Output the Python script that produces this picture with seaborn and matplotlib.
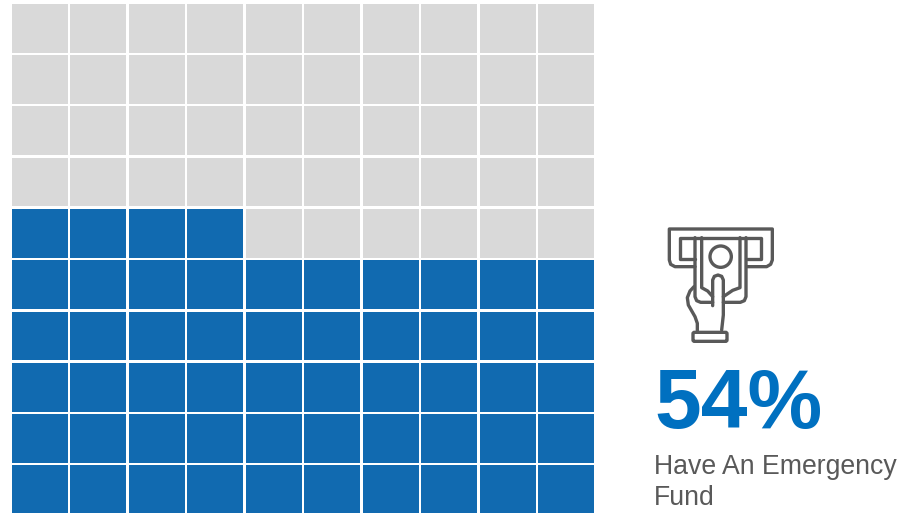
import numpy as np
import matplotlib
matplotlib.use("Agg")
import matplotlib.pyplot as plt
from matplotlib.colors import ListedColormap
from matplotlib.patches import Circle, FancyBboxPatch
import seaborn as sns

# Units filled per row, top row first (54 of 100)
filled_per_row = [0, 0, 0, 0, 4, 10, 10, 10, 10, 10]
n_columns = 10
headline = "54%"
caption = ["Have An Emergency", "Fund"]
colours = ["#D9D9D9", "#116AB0"]

W, H = 902, 513
matrix = np.array([[1 if c < n else 0 for c in range(n_columns)] for n in filled_per_row])

sns.set_theme(style="white")
plt.rcParams["font.family"] = ["Liberation Sans", "DejaVu Sans"]

fig = plt.figure(figsize=(W / 100, H / 100), dpi=100, facecolor="white")
ax = fig.add_axes([10.5 / W, 1 - 515.5 / H, 585 / W, 513 / H])
sns.heatmap(matrix, ax=ax, cmap=ListedColormap(colours), vmin=0, vmax=1, cbar=False,
            linewidths=1.1, linecolor="white", xticklabels=False, yticklabels=False,
            square=False)
ax.collections[0].set_snap(False)

# Overlay in reference pixel coordinates for the icon and the text
ov = fig.add_axes([0, 0, 1, 1], facecolor="none")
ov.set_xlim(0, W)
ov.set_ylim(H, 0)
ov.axis("off")

icon_colour = "#595959"
def Z(points):
    pts = np.array(points, dtype=float)
    return pts[:, 0] / 3 + 640, pts[:, 1] / 3 + 215

strokes = [
    # slot, outer
    [(165, 155), (105, 155), (92, 148), (88, 135), (88, 42), (397, 42), (397, 135), (392, 148), (380, 155), (320, 155)],
    # slot, inner
    [(165, 133), (120, 133), (120, 68), (362, 68), (362, 133), (320, 133)],
    # banknote, outer
    [(165, 68), (165, 245), (170, 257), (182, 262), (218, 262)],
    [(318, 68), (318, 245), (313, 257), (301, 262), (250, 262)],
    # banknote, inner
    [(185, 68), (185, 218), (203, 228), (218, 245)],
    [(300, 68), (300, 218), (278, 226), (250, 245)],
    # finger
    [(218, 272), (218, 195), (223, 184), (234, 180), (245, 184), (250, 195), (250, 300), (245, 345)],
    # hand
    [(162, 215), (150, 228), (142, 248), (145, 270), (165, 305), (172, 325), (172, 348)],
]
for s in strokes:
    x, y = Z(s)
    ov.plot(x, y, color=icon_colour, lw=2.4, solid_capstyle="round", solid_joinstyle="round")

cx, cy = Z([(242, 125)])
ov.add_patch(Circle((cx[0], cy[0]), 32 / 3, fill=False, ec=icon_colour, lw=2.4))
bx, by = Z([(156, 349)])
ov.add_patch(FancyBboxPatch((bx[0] + 1, by[0] + 1), 34, 9, boxstyle="round,pad=0,rounding_size=1.5",
                            fill=False, ec=icon_colour, lw=2.4))

ov.text(654, 428, headline, color="#0070C0", fontsize=60.5, fontweight="bold", ha="left", va="baseline")
ov.text(654, 474, caption[0], color="#595959", fontsize=19.15, ha="left", va="baseline")
ov.text(654, 505, caption[1], color="#595959", fontsize=19.15, ha="left", va="baseline")

fig.savefig("out.png", dpi=100, facecolor="white")
